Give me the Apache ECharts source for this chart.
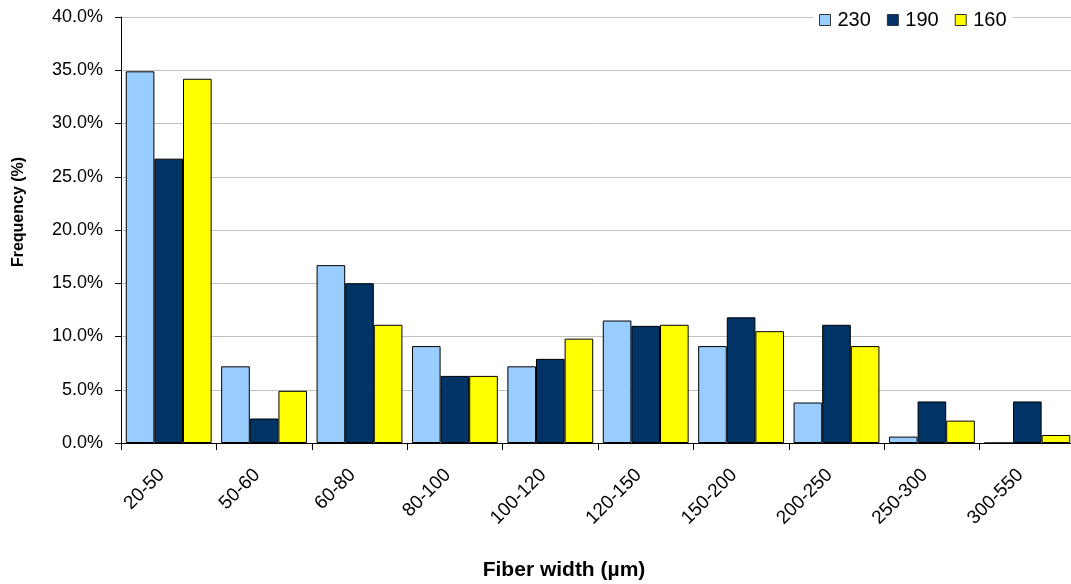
<!DOCTYPE html>
<html>
<head>
<meta charset="utf-8">
<script src="https://cdn.jsdelivr.net/npm/echarts@6/dist/echarts.min.js"></script>
<style>
  html, body { margin: 0; padding: 0; background: #fff; }
  #chart { width: 1071px; height: 584px; }
</style>
</head>
<body>
<div id="chart"></div>
<script>
// fiber width classes (µm)
const categories = ['20-50', '50-60', '60-80', '80-100', '100-120', '120-150', '150-200', '200-250', '250-300', '300-550']
const seriesNames = ['230', '190', '160']
// frequency in %
const s230 = [34.9, 7.2, 16.7, 9.1, 7.2, 11.5, 9.1, 3.8, 0.6, 0]
const s190 = [26.7, 2.3, 15.0, 6.3, 7.9, 11.0, 11.8, 11.1, 3.9, 3.9]
const s160 = [34.2, 4.9, 11.1, 6.3, 9.8, 11.1, 10.5, 9.1, 2.1, 0.75]
const colors = ['#99CCFF', '#003366', '#FFFF00']

const chart = echarts.init(document.getElementById('chart'))
const font = "'Liberation Sans', Arial, sans-serif"

const makeBar = (name, data, i) => ({
  type: 'bar',
  name: name,
  data: data,
  barGap: '0%',
  barCategoryGap: '10%',
  itemStyle: {
    color: colors[i],
    borderColor: '#000',
    borderWidth: 1
  }
})

chart.setOption({
  animation: false,
  textStyle: { fontFamily: font },
  legend: {
    data: seriesNames,
    left: 813,
    top: 7,
    backgroundColor: '#fff',
    padding: [3, 6],
    itemWidth: 11,
    itemHeight: 11,
    itemGap: 16,
    icon: 'rect',
    itemStyle: { borderColor: '#333', borderWidth: 1 },
    textStyle: { fontSize: 20, color: '#000', padding: [0, 0, 0, 2] }
  },
  grid: {
    left: 121,
    right: -4,
    top: 17,
    bottom: 141,
    containLabel: false,
    outerBoundsMode: 'none'
  },
  xAxis: {
    type: 'category',
    data: categories,
    name: 'Fiber width (µm)',
    nameLocation: 'middle',
    nameGap: 117,
    nameTextStyle: { fontSize: 21, fontWeight: 'bold', color: '#000', padding: [0, 68, 0, 0] },
    axisLine: { lineStyle: { color: '#000', width: 1 } },
    axisTick: { show: true, length: 7, lineStyle: { color: '#000' } },
    axisLabel: { rotate: 45, fontSize: 19, color: '#000', margin: 22, interval: 0, padding: [0, 10, 0, 0] }
  },
  yAxis: {
    type: 'value',
    min: 0,
    max: 40,
    interval: 5,
    name: 'Frequency (%)',
    nameLocation: 'middle',
    nameGap: 94,
    nameTextStyle: { fontSize: 16, fontWeight: 'bold', color: '#000', padding: [0, 0, 0, 36] },
    axisLine: { show: true, lineStyle: { color: '#000', width: 1 } },
    axisTick: { show: true, length: 6, lineStyle: { color: '#000' } },
    axisLabel: {
      fontSize: 18,
      color: '#000',
      margin: 18,
      formatter: v => v.toFixed(1) + '%'
    },
    splitLine: { show: true, lineStyle: { color: '#c0c0c0', width: 1 } }
  },
  series: [
    makeBar(seriesNames[0], s230, 0),
    makeBar(seriesNames[1], s190, 1),
    makeBar(seriesNames[2], s160, 2)
  ]
})
</script>
</body>
</html>
